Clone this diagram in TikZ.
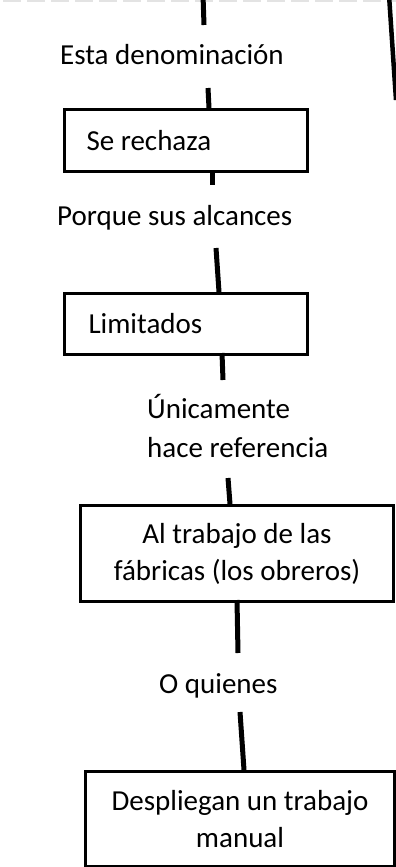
\documentclass[tikz,border=0pt]{standalone}
\usepackage{fontspec}
\setmainfont{Carlito}
\begin{document}
\begin{tikzpicture}[x=1pt,y=-1pt,
  lbl/.style={inner sep=0pt, font=\fontsize{29}{39}\selectfont},
  boxl/.style={draw, line width=3pt, inner ysep=0pt, inner xsep=0pt,
     font=\fontsize{29}{38}\selectfont, anchor=north west},
  boxc/.style={draw, line width=3pt, inner sep=0pt, align=center,
     font=\fontsize{29}{37}\selectfont, anchor=north west},
  conn/.style={line width=5pt},
  ]
\clip (0,0) rectangle (396,867);
\fill[white] (0,0) rectangle (396,867);
% top dashed rule and right edge line
\draw[gray!22, line width=2.5pt, dash pattern=on 18pt off 6pt] (3,0.5) -- (396,0.5);
\draw[line width=4.5pt] (389,-5) -- (396,100);

% labels
\node[lbl, anchor=base west] (t1) at (60,64) {Esta denominación};
\node[lbl, anchor=base west] (t2) at (57,225) {Porque sus alcances};
\node[lbl, anchor=base west, align=left] (t3) at (147,457) {Únicamente\\hace referencia};
\node[lbl, anchor=base west] (t4) at (159,693) {O quienes};

% boxes
\node[boxl, minimum width=243pt, minimum height=62pt] (b1) at (63,108)
  {\makebox[243pt][l]{\hspace{22pt}Se rechaza}};
\node[boxl, minimum width=243pt, minimum height=61pt] (b2) at (63,292)
  {\makebox[243pt][l]{\hspace{24pt}Limitados}};
\node[boxc, minimum width=313pt, minimum height=96pt] (b3) at (79,504) {Al trabajo de las\\fábricas (los obreros)};
\node[boxc, minimum width=309pt, minimum height=95pt] (b4) at (84,770) {Despliegan un trabajo\\manual};

% connector ends
\coordinate (s1a) at (203,-5);  \coordinate (s1b) at (204,25);
\coordinate (s2a) at (208,88);  \coordinate (s2b) at (209,108);
\coordinate (s3a) at (212,170); \coordinate (s3b) at (212,185);
\coordinate (s4a) at (216,248); \coordinate (s4b) at (219,292);
\coordinate (s5a) at (222,353); \coordinate (s5b) at (223,380);
\coordinate (s6a) at (228,478); \coordinate (s6b) at (230,504);
\coordinate (s7a) at (237,600); \coordinate (s7b) at (238,653);
\coordinate (s8a) at (240,712); \coordinate (s8b) at (244,770);

\draw[conn] (s1a) -- (s1b);
\draw[conn] (s2a) -- (s2b);
\draw[conn] (s3a) -- (s3b);
\draw[conn] (s4a) -- (s4b);
\draw[conn] (s5a) -- (s5b);
\draw[conn] (s6a) -- (s6b);
\draw[conn] (s7a) -- (s7b);
\draw[conn] (s8a) -- (s8b);
\end{tikzpicture}
\end{document}
